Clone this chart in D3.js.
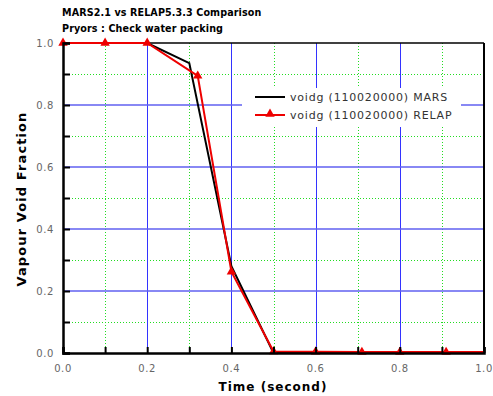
<!DOCTYPE html>
<html><head><meta charset="utf-8">
<script src="https://cdn.jsdelivr.net/npm/d3@7"></script>
<style>body{margin:0;background:#fff}svg{display:block}</style>
</head><body>
<svg id="c" width="493" height="396"></svg>
<script>
const titleLines = ["MARS2.1 vs RELAP5.3.3 Comparison", "Pryors : Check water packing"];
const xTicks = [0, 0.2, 0.4, 0.6, 0.8, 1.0];
const yTicks = [0, 0.2, 0.4, 0.6, 0.8, 1.0];
const minorTicks = [0.1, 0.3, 0.5, 0.7, 0.9];
const marsTime = [0, 0.1, 0.2, 0.3, 0.4, 0.5, 0.6, 0.7, 0.8, 0.9, 1.0];
const marsVoid = [1, 1, 1, 0.935, 0.28, 0.0, 0.0, 0.0, 0.0, 0.0, 0.0];
const relapTime = [0, 0.1, 0.2, 0.32, 0.4, 0.5, 0.6, 0.71, 0.8, 0.91, 1.0];
const relapVoid = [1, 1, 1, 0.894, 0.262, 0.005, 0.004, 0.003, 0.003, 0.003, 0.003];
const seriesNames = ["voidg (110020000) MARS", "voidg (110020000) RELAP"];
const xLabel = "Time (second)";
const yLabel = "Vapour Void Fraction";

const svg = d3.select("#c");
const x = d3.scaleLinear().domain([0, 1]).range([63, 484]);
const y = d3.scaleLinear().domain([0, 1]).range([353, 43]);

// minor grid (green dotted)
const g = svg.append("g");
minorTicks.forEach(t => {
  g.append("line").attr("x1", Math.round(x(t)) + 0.5).attr("x2", Math.round(x(t)) + 0.5).attr("y1", y(0)).attr("y2", y(1))
    .attr("stroke", "#22dd22").attr("stroke-width", 1).attr("stroke-dasharray", "1,2");
  g.append("line").attr("x1", x(0)).attr("x2", x(1)).attr("y1", Math.round(y(t)) + 0.5).attr("y2", Math.round(y(t)) + 0.5)
    .attr("stroke", "#22dd22").attr("stroke-width", 1).attr("stroke-dasharray", "1,2");
});
// major grid (blue)
xTicks.slice(1, -1).forEach(t => {
  g.append("line").attr("x1", Math.round(x(t)) + 0.5).attr("x2", Math.round(x(t)) + 0.5).attr("y1", y(0)).attr("y2", y(1))
    .attr("stroke", "#3333ff").attr("stroke-width", 1);
});
yTicks.slice(1, -1).forEach(t => {
  g.append("line").attr("x1", x(0)).attr("x2", x(1)).attr("y1", Math.round(y(t))).attr("y2", Math.round(y(t)))
    .attr("stroke", "#6060f0").attr("stroke-width", 1.3);
});

// legend background (covers grid)
const lg = svg.append("g");
lg.append("rect").attr("x", 242).attr("y", 88).attr("width", 219).attr("height", 39).attr("fill", "#fff");

// frame
svg.append("line").attr("x1", x(0)).attr("x2", x(1)).attr("y1", y(1)).attr("y2", y(1)).attr("stroke", "#000").attr("stroke-width", 1.5);
svg.append("line").attr("x1", x(1)).attr("x2", x(1)).attr("y1", y(0)).attr("y2", y(1)).attr("stroke", "#000").attr("stroke-width", 2);

// data
const line = d3.line().x(d => x(d[0])).y(d => y(d[1]));
const mars = marsTime.map((t, i) => [t, marsVoid[i]]);
const relap = relapTime.map((t, i) => [t, relapVoid[i]]);
svg.append("path").attr("d", line(mars)).attr("fill", "none").attr("stroke", "#000").attr("stroke-width", 2);
svg.append("path").attr("d", line(relap)).attr("fill", "none").attr("stroke", "#ee0000").attr("stroke-width", 2);
const tri = d3.symbol().type(d3.symbolTriangle).size(38);
svg.append("g").selectAll("path").data(relap.slice(0, -1)).join("path")
  .attr("d", tri).attr("transform", d => `translate(${x(d[0])},${y(d[1])})`).attr("fill", "#ee0000");

// axes
const xAxis = d3.axisBottom(x).tickValues(d3.range(0, 1.0001, 0.1)).tickSize(-6).tickFormat("");
const yAxis = d3.axisLeft(y).tickValues(d3.range(0, 1.0001, 0.1)).tickSize(-7).tickFormat("");
const ax = svg.append("g").attr("transform", `translate(0,${y(0)})`).call(xAxis);
const ay = svg.append("g").attr("transform", `translate(${x(0)},0)`).call(yAxis);
[ax, ay].forEach(a => {
  a.select(".domain").attr("stroke", "#000").attr("stroke-width", 2.5);
  a.selectAll(".tick line").attr("stroke", "#000").attr("stroke-width", 2);
});

// tick labels
svg.append("g").selectAll("text").data(xTicks).join("text")
  .attr("x", d => x(d)).attr("y", 372).attr("text-anchor", "middle")
  .attr("font-family", "DejaVu Sans").attr("font-size", 10).attr("letter-spacing", 0.6).attr("fill", "#666")
  .text(d => d.toFixed(1));
svg.append("g").selectAll("text").data(yTicks).join("text")
  .attr("x", 54).attr("y", d => y(d) + 4).attr("text-anchor", "end")
  .attr("font-family", "DejaVu Sans").attr("font-size", 10).attr("letter-spacing", 0.6).attr("fill", "#666")
  .text(d => d.toFixed(1));

// titles
titleLines.forEach((t, i) => {
  svg.append("text").attr("x", 62).attr("y", 16 + i * 16)
    .attr("font-family", "DejaVu Sans").attr("font-weight", "bold").attr("font-size", 9.6).attr("letter-spacing", 0.1)
    .attr("fill", "#000").text(t);
});
svg.append("text").attr("x", 273).attr("y", 391).attr("text-anchor", "middle")
  .attr("font-family", "DejaVu Sans").attr("font-weight", "bold").attr("font-size", 12).attr("letter-spacing", 1)
  .text(xLabel);
svg.append("text").attr("transform", "translate(26,199) rotate(-90)").attr("text-anchor", "middle")
  .attr("font-family", "DejaVu Sans").attr("font-weight", "bold").attr("font-size", 13).attr("letter-spacing", 1.1)
  .text(yLabel);

// legend
const ly = [97, 115];
lg.append("line").attr("x1", 255).attr("x2", 285).attr("y1", ly[0]).attr("y2", ly[0]).attr("stroke", "#000").attr("stroke-width", 2);
lg.append("line").attr("x1", 255).attr("x2", 285).attr("y1", ly[1]).attr("y2", ly[1]).attr("stroke", "#ee0000").attr("stroke-width", 2);
lg.append("path").attr("d", tri).attr("transform", `translate(270,${ly[1] - 1})`).attr("fill", "#ee0000");
seriesNames.forEach((s, i) => {
  lg.append("text").attr("x", 290).attr("y", ly[i] + 4)
    .attr("font-family", "DejaVu Sans").attr("font-size", 11).attr("letter-spacing", 0.8).attr("fill", "#333")
    .text(s);
});
</script>
</body></html>
